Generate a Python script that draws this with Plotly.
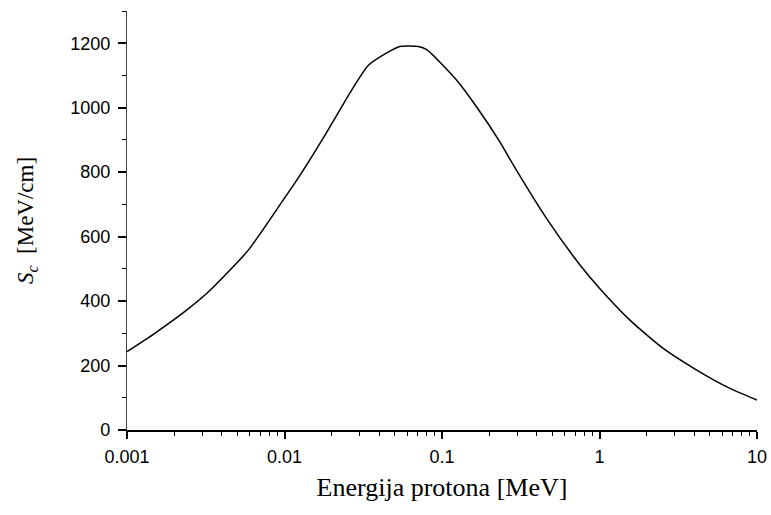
import plotly.graph_objects as go

# Proton energy [MeV]
energy = [0.001, 0.0015, 0.00239, 0.00328, 0.00589, 0.0098, 0.01253, 0.016,
          0.0204, 0.0261, 0.034, 0.0446, 0.054, 0.0708, 0.08, 0.124, 0.166,
          0.233, 0.284, 0.462, 0.752, 1.0, 1.56, 2.54, 4.14, 6.74, 10.0]
# Stopping power S_c [MeV/cm]
stopping = [243, 300, 372, 428, 558, 713, 790, 872,
            958, 1047, 1131, 1170, 1190, 1190, 1180, 1085, 1002,
            894, 822, 656, 512, 440, 341, 253, 186, 129, 93]

x_tickvals = [0.001, 0.01, 0.1, 1, 10]
x_ticktext = ["0.001", "0.01", "0.1", "1", "10"]
x_minor = [m * d for d in [0.001, 0.01, 0.1, 1] for m in range(2, 10)]

y_tickvals = [0, 200, 400, 600, 800, 1000, 1200]

fig = go.Figure()
fig.add_trace(go.Scatter(x=energy, y=stopping, mode="lines",
                         line=dict(color="black", width=1.5, shape="spline",
                                   smoothing=0.6),
                         showlegend=False))

tick_font = dict(family="Liberation Sans, Arial", size=18, color="black")
title_font = dict(family="Liberation Serif, Times New Roman", color="black")

fig.update_layout(
    width=771, height=515,
    margin=dict(l=127, r=14, t=11, b=85),
    paper_bgcolor="white", plot_bgcolor="white",
    xaxis=dict(
        type="log", range=[-3, 1],
        tickmode="array", tickvals=x_tickvals, ticktext=x_ticktext,
        ticks="outside", ticklen=7, tickwidth=1.5, tickcolor="black",
        minor=dict(ticks="outside", ticklen=4, tickwidth=1.2, tickcolor="black",
                   tickmode="array", tickvals=x_minor, showgrid=False),
        showline=True, linecolor="black", linewidth=2,
        showgrid=False, zeroline=False,
        tickfont=tick_font, ticklabelstandoff=2,
        title=dict(text="Energija protona [MeV]",
                   font=dict(size=26, **title_font), standoff=12),
        automargin=False,
    ),
    yaxis=dict(
        range=[0, 1300],
        tickmode="array", tickvals=y_tickvals,
        ticks="outside", ticklen=8, tickwidth=1.5, tickcolor="black",
        minor=dict(ticks="outside", ticklen=4, tickwidth=1.2, tickcolor="black",
                   dtick=100, showgrid=False),
        showline=True, linecolor="#444444", linewidth=1.2,
        showgrid=False, zeroline=False,
        tickfont=tick_font, ticklabelstandoff=4,
        title=dict(text="<i>S<sub>c</sub></i>\u00a0\u00a0[MeV/cm]",
                   font=dict(size=23, **title_font), standoff=30),
        automargin=False,
    ),
)

fig.write_html("out.html",
               config={"displayModeBar": False},
               post_script="document.body.style.margin='0';"
                           "document.body.style.overflow='hidden';")
